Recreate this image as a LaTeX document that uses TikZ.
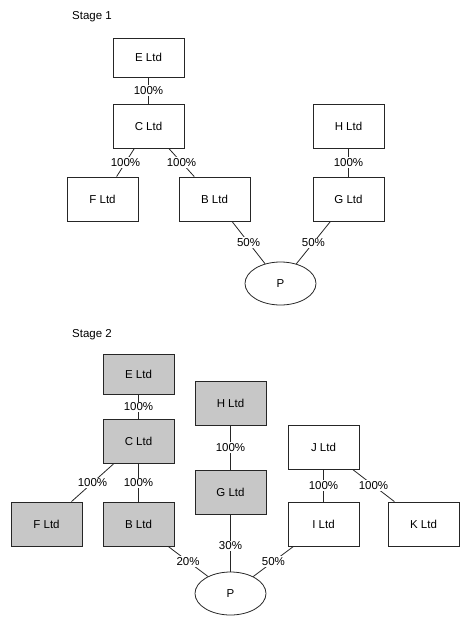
\documentclass[tikz,border=0pt]{standalone}
\usepackage{fontspec}
\setmainfont{Liberation Sans}
\usetikzlibrary{shapes.geometric}
\tikzset{
  co/.style={draw=black!85, line width=0.8pt, rectangle, minimum width=71pt, minimum height=44pt, inner sep=0pt, font=\fontsize{11.5}{13}\selectfont},
  shaded/.style={co, fill=black!22},
  person/.style={draw=black!85, line width=0.8pt, ellipse, minimum width=71pt, minimum height=43pt, inner sep=0pt, font=\fontsize{11.5}{13}\selectfont},
  link/.style={draw=black!85, line width=0.8pt},
  pct/.style={fill=white, inner sep=1pt, font=\fontsize{11.5}{13}\selectfont},
  stage/.style={anchor=west, inner sep=0pt, font=\fontsize{11.5}{13}\selectfont}
}
\begin{document}
\begin{tikzpicture}[x=1pt,y=-1pt]
\useasboundingbox (0,0) rectangle (470,627);
% Stage 1
\node[stage] (s1) at (72,17) {Stage 1};
\node[co, minimum height=39pt] (E1) at (148.5,57.5) {E Ltd};
\node[co] (C1) at (148.5,126) {C Ltd};
\node[co] (H1) at (348.5,126) {H Ltd};
\node[co] (F1) at (102.5,199) {F Ltd};
\node[co] (B1) at (214.5,199) {B Ltd};
\node[co] (G1) at (348.5,199) {G Ltd};
\node[person] (P1) at (280.5,283.5) {P};
\draw[link] (E1) -- node[pct] {100\%} (C1);
\draw[link] (C1) -- node[pct] {100\%} (F1);
\draw[link] (C1) -- node[pct] {100\%} (B1);
\draw[link] (H1) -- node[pct] {100\%} (G1);
\draw[link] (B1) -- node[pct] {50\%} (P1);
\draw[link] (G1) -- node[pct] {50\%} (P1);
% Stage 2
\node[stage] (s2) at (72,335) {Stage 2};
\node[shaded, minimum height=40pt] (E2) at (138.5,374) {E Ltd};
\node[shaded] (C2) at (138.5,441.5) {C Ltd};
\node[shaded] (H2) at (230.5,403) {H Ltd};
\node[shaded] (G2) at (230.5,492) {G Ltd};
\node[co] (J2) at (323.5,447) {J Ltd};
\node[shaded] (F2) at (46.5,524) {F Ltd};
\node[shaded] (B2) at (138.5,524) {B Ltd};
\node[co] (I2) at (323.5,524) {I Ltd};
\node[co] (K2) at (423.5,524) {K Ltd};
\node[person] (P2) at (230.5,593.5) {P};
\draw[link] (E2) -- node[pct] {100\%} (C2);
\draw[link] (C2) -- node[pct] {100\%} (F2);
\draw[link] (C2) -- node[pct] {100\%} (B2);
\draw[link] (H2) -- node[pct] {100\%} (G2);
\draw[link] (J2) -- node[pct] {100\%} (I2);
\draw[link] (J2) -- node[pct] {100\%} (K2);
\draw[link] (B2) -- node[pct] {20\%} (P2);
\draw[link] (G2) -- node[pct, pos=0.55] {30\%} (P2);
\draw[link] (I2) -- node[pct] {50\%} (P2);
\end{tikzpicture}
\end{document}
